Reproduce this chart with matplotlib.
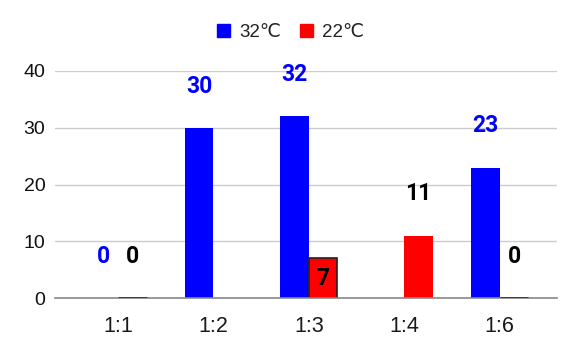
import numpy as np
import matplotlib
matplotlib.use("Agg")
import matplotlib.pyplot as plt
from matplotlib.patches import Patch

plt.rcParams['font.family'] = ['Liberation Sans', 'DejaVu Sans']

categories = ["1:1", "1:2", "1:3", "1:4", "1:6"]
series_names = ["32℃", "22℃"]
hot_values = [0, 30, 32, np.nan, 23]
cool_values = [0, np.nan, 7, 11, 0]
y_ticks = [0, 10, 20, 30, 40]

BLUE = "#0000ff"
RED = "#ff0000"
LABEL_FONT = ['Roboto', 'DejaVu Sans']

fig = plt.figure(figsize=(5.73, 3.38), dpi=100)
ax = fig.add_axes([0.096, 0.118, 0.876, 0.672])

x = np.arange(len(categories))
w = 0.30

hot = np.array(hot_values, dtype=float)
cool = np.array(cool_values, dtype=float)

ax.bar(x - w / 2, np.nan_to_num(hot), w, color=BLUE, linewidth=0, zorder=3)
for xi, v in zip(x + w / 2, cool):
    if np.isnan(v):
        continue
    if v == 0:
        ax.bar(xi, v, w, color=RED, edgecolor="#333333", linewidth=2.0, zorder=5)
    elif v < 8:
        ax.bar(xi, v, w, color=RED, edgecolor="#222222", linewidth=1.2, zorder=3)
    else:
        ax.bar(xi, v, w, color=RED, linewidth=0, zorder=3)

# value labels
for xi, v in zip(x - w / 2, hot):
    if np.isnan(v):
        continue
    ax.annotate(f"{v:.0f}", (xi, v), xytext=(0, 30), textcoords="offset points",
                ha="center", va="center", fontsize=16.5, fontweight="bold",
                family=LABEL_FONT, color=BLUE, clip_on=False, zorder=6)
for xi, v in zip(x + w / 2, cool):
    if np.isnan(v):
        continue
    inside = 0 < v < 8
    ax.annotate(f"{v:.0f}", (xi, v), xytext=(0, -14.5 if inside else 30),
                textcoords="offset points", ha="center", va="center",
                fontsize=16.5, fontweight="bold", family=LABEL_FONT,
                color="#000000", clip_on=False, zorder=6)

ax.set_xlim(-0.66, 4.6)
ax.set_ylim(0, 40)
ax.set_yticks(y_ticks)
ax.set_xticks(x)
ax.set_xticklabels(categories, fontsize=15.5, color="#1a1a1a")
ax.tick_params(axis="y", labelsize=14, labelcolor="#111111", length=0, pad=7)
ax.tick_params(axis="x", length=0, pad=13)
ax.grid(axis="y", color="#cccccc", linewidth=1, zorder=0)
for s in ["top", "right", "left"]:
    ax.spines[s].set_visible(False)
ax.spines["bottom"].set_color("#888888")
ax.spines["bottom"].set_linewidth(1.2)
ax.spines["bottom"].set_zorder(4)

handles = [Patch(color=BLUE), Patch(color=RED)]
fig.legend(handles, series_names, loc="center", bbox_to_anchor=(0.507, 0.905),
           ncol=2, frameon=False, fontsize=13.5, handlelength=0.7, handleheight=0.7,
           handletextpad=0.5, columnspacing=1.0, labelcolor="#222222")

fig.savefig("out.png", dpi=100)
